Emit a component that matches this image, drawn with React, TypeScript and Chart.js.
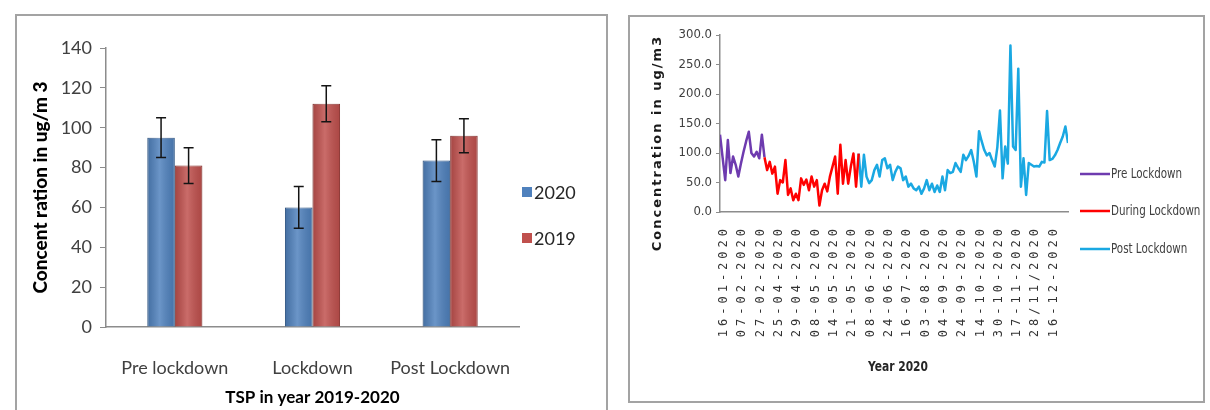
import React, { useEffect, useRef } from "react";
import { Chart, registerables } from "chart.js";

Chart.register(...registerables);

// ---- TSP bar chart data ----
const periods = ["Pre lockdown", "Lockdown", "Post Lockdown"];
const seriesNames = ["2020", "2019"];
const tsp2020 = [95, 60, 83.5];
const tsp2020Err = [10, 10.5, 10.5];
const tsp2019 = [81, 112, 96];
const tsp2019Err = [9, 9, 8.5];

// ---- 2020 daily concentration data ----
const dateTicks = [
  "16-01-2020", "07-02-2020", "27-02-2020", "25-04-2020", "29-04-2020",
  "08-05-2020", "14-05-2020", "21-05-2020", "08-06-2020", "24-06-2020",
  "16-07-2020", "03-08-2020", "04-09-2020", "24-09-2020", "14-10-2020",
  "30-10-2020", "17-11-2020", "28/11/2020", "16-12-2020",
];
const tickEvery = 7;
const lineNames = ["Pre Lockdown", "During Lockdown", "Post Lockdown"];
const preLockdown = [131, 92, 54, 122, 66, 94, 80, 60, 82, 102, 120, 136, 100, 94, 102, 91, 131, 93];
const duringLockdown = [
  93, 71, 85, 65, 77, 31, 54, 50, 88, 29, 40, 20, 31, 20, 57, 46, 55, 37, 60,
  43, 54, 11, 37, 48, 35, 60, 77, 94, 31, 114, 48, 88, 48, 77, 99, 43, 99,
];
const postLockdown = [
  99, 43, 97, 60, 49, 54, 71, 80, 60, 88, 91, 74, 80, 54, 68, 77, 74, 54, 60,
  43, 48, 40, 37, 43, 31, 40, 54, 37, 48, 34, 45, 34, 60, 37, 71, 66, 68, 83,
  75, 68, 97, 88, 95, 105, 85, 60, 137, 120, 105, 96, 100, 88, 77, 110, 172,
  57, 111, 82, 282, 111, 105, 243, 43, 91, 29, 83, 80, 77, 78, 77, 85, 84, 171,
  88, 90, 96, 105, 117, 128, 145, 117,
];

const preStart = 0;
const duringStart = preStart + preLockdown.length - 1;
const postStart = duringStart + duringLockdown.length - 1;
const lastIndex = postStart + postLockdown.length - 1;

const sansFont = "Lato, 'Open Sans', sans-serif";
const condensedFont = "'DejaVu Sans Condensed', 'DejaVu Sans', sans-serif";
const axisGray = "#8c8c8c";

const barColors = ["#4F81BD", "#C0504D"];
const barEdges = ["#3c679c", "#9c3d3a"];
const lineColors = ["#6E3BAF", "#FF0000", "#1AA8E2"];

function toPoints(values: number[], start: number) {
  return values.map((v, i) => ({ x: start + i, y: v }));
}

// Draws text squeezed horizontally, for the narrow legend/title lettering.
function narrowText(ctx: CanvasRenderingContext2D, text: string, x: number, y: number, sx: number) {
  ctx.save();
  ctx.translate(x, y);
  ctx.scale(sx, 1);
  ctx.fillText(text, 0, 0);
  ctx.restore();
}

function BarPanel() {
  const ref = useRef<HTMLCanvasElement>(null);
  useEffect(() => {
    const errs = [tsp2020Err, tsp2019Err];

    const shading = {
      id: "barShading",
      afterDatasetsDraw(chart: any) {
        const ctx = chart.ctx;
        chart.data.datasets.forEach((_: any, di: number) => {
          chart.getDatasetMeta(di).data.forEach((el: any) => {
            const left = el.x - el.width / 2;
            const g = ctx.createLinearGradient(left, 0, left + el.width, 0);
            g.addColorStop(0, "rgba(0,0,0,0.14)");
            g.addColorStop(0.45, "rgba(255,255,255,0.16)");
            g.addColorStop(1, "rgba(0,0,0,0.10)");
            ctx.save();
            ctx.fillStyle = g;
            ctx.fillRect(left, el.y, el.width, el.base - el.y);
            ctx.restore();
          });
        });
      },
    };

    const errorBars = {
      id: "errorBars",
      afterDatasetsDraw(chart: any) {
        const ctx = chart.ctx;
        const y = chart.scales.y;
        chart.data.datasets.forEach((ds: any, di: number) => {
          chart.getDatasetMeta(di).data.forEach((el: any, i: number) => {
            const v = ds.data[i] as number;
            const top = y.getPixelForValue(v + errs[di][i]);
            const bot = y.getPixelForValue(v - errs[di][i]);
            ctx.save();
            ctx.strokeStyle = "#141414";
            ctx.lineWidth = 1.5;
            ctx.beginPath();
            ctx.moveTo(el.x, top);
            ctx.lineTo(el.x, bot);
            ctx.moveTo(el.x - 5, top);
            ctx.lineTo(el.x + 5, top);
            ctx.moveTo(el.x - 5, bot);
            ctx.lineTo(el.x + 5, bot);
            ctx.stroke();
            ctx.restore();
          });
        });
      },
    };

    const sideLegend = {
      id: "sideLegend",
      afterDraw(chart: any) {
        const ctx = chart.ctx;
        const x = chart.chartArea.right + 3;
        const rows = [176, 222];
        ctx.save();
        seriesNames.forEach((name, i) => {
          const yc = rows[i];
          ctx.fillStyle = barColors[i];
          ctx.fillRect(x, yc - 5, 10, 10);
          ctx.fillStyle = "#262626";
          ctx.font = `18px ${sansFont}`;
          ctx.textAlign = "left";
          ctx.textBaseline = "middle";
          ctx.fillText(name, x + 12, yc + 1);
        });
        ctx.restore();
      },
    };

    const chart = new Chart(ref.current!, {
      type: "bar",
      data: {
        labels: periods,
        datasets: [
          { label: seriesNames[0], data: tsp2020, backgroundColor: barColors[0], borderColor: barEdges[0], borderWidth: 1 },
          { label: seriesNames[1], data: tsp2019, backgroundColor: barColors[1], borderColor: barEdges[1], borderWidth: 1 },
        ],
      },
      options: {
        responsive: false,
        animation: false,
        events: [],
        datasets: { bar: { categoryPercentage: 0.4, barPercentage: 1 } },
        layout: { padding: { left: 0, right: 87, top: 32, bottom: 0 } },
        plugins: { legend: { display: false }, tooltip: { enabled: false } },
        scales: {
          x: {
            offset: true,
            grid: { display: false, drawTicks: false },
            border: { display: true, color: axisGray, width: 1.5 },
            ticks: { padding: 30, color: "#404040", font: { family: sansFont, size: 18 } },
            title: {
              display: true,
              text: "TSP in year 2019-2020",
              color: "#000",
              font: { family: sansFont, size: 17, weight: "bold" },
              padding: { top: 0, bottom: 2 },
            },
            afterFit: (s: any) => { s.height = 83; },
          },
          y: {
            min: 0,
            max: 140,
            ticks: { stepSize: 20, padding: 8, color: "#404040", font: { family: sansFont, size: 18 } },
            grid: { display: true, drawOnChartArea: false, drawTicks: true, tickLength: 6, color: axisGray },
            border: { display: true, color: axisGray, width: 1.5 },
            title: {
              display: true,
              text: "Concent ration in ug/m 3",
              color: "#000",
              font: { family: sansFont, size: 19, weight: "900" },
              padding: { top: 12, bottom: 0 },
            },
            afterFit: (s: any) => { s.width = 89; },
          },
        },
      },
      plugins: [shading, errorBars, sideLegend],
    } as any);
    return () => chart.destroy();
  }, []);
  return (
    <canvas
      ref={ref}
      width={589}
      height={394}
      style={{ position: "absolute", left: 17, top: 16, width: 589, height: 394 }}
    />
  );
}

function LinePanel() {
  const ref = useRef<HTMLCanvasElement>(null);
  useEffect(() => {
    const annotations = {
      id: "dateAxisAndLegend",
      afterDraw(chart: any) {
        const ctx = chart.ctx;
        const area = chart.chartArea;
        const xs = chart.scales.x;
        ctx.save();
        // rotated date labels
        ctx.fillStyle = "#333";
        ctx.font = "12px 'DejaVu Sans Mono', monospace";
        (ctx as any).letterSpacing = "4px";
        ctx.textAlign = "right";
        ctx.textBaseline = "middle";
        dateTicks.forEach((label, j) => {
          const px = xs.getPixelForValue(j * tickEvery);
          ctx.save();
          ctx.translate(px + 4, area.bottom + 13);
          ctx.rotate(-Math.PI / 2);
          ctx.fillText(label, 0, 0);
          ctx.restore();
        });
        (ctx as any).letterSpacing = "0px";

        // axis titles
        ctx.fillStyle = "#262626";
        ctx.font = `bold 14px ${condensedFont}`;
        ctx.textAlign = "center";
        narrowText(ctx, "Year 2020", 268, 350, 0.85);

        ctx.save();
        ctx.translate(28, 126);
        ctx.rotate(-Math.PI / 2);
        ctx.font = "bold 13px 'DejaVu Sans', sans-serif";
        (ctx as any).letterSpacing = "2px";
        ctx.fillStyle = "#1a1a1a";
        ctx.fillText("Concentration in ug/m3", 0, 0);
        ctx.restore();

        // legend
        const rows = [157, 194, 232];
        ctx.font = `14px ${condensedFont}`;
        ctx.textAlign = "left";
        lineNames.forEach((name, i) => {
          const y = rows[i];
          ctx.strokeStyle = lineColors[i];
          ctx.lineWidth = 2.5;
          ctx.beginPath();
          ctx.moveTo(450, y);
          ctx.lineTo(480, y);
          ctx.stroke();
          ctx.fillStyle = "#404040";
          narrowText(ctx, name, 481, y, 0.82);
        });
        ctx.restore();
      },
    };

    const chart = new Chart(ref.current!, {
      type: "line",
      data: {
        datasets: [
          { label: lineNames[0], data: toPoints(preLockdown, preStart), borderColor: lineColors[0] },
          { label: lineNames[1], data: toPoints(duringLockdown, duringStart), borderColor: lineColors[1] },
          { label: lineNames[2], data: toPoints(postLockdown, postStart), borderColor: lineColors[2] },
        ],
      },
      options: {
        responsive: false,
        animation: false,
        events: [],
        elements: {
          point: { radius: 0 },
          line: { borderWidth: 2.5, tension: 0, borderJoinStyle: "round" },
        },
        layout: { padding: { left: 0, right: 135, top: 18, bottom: 0 } },
        plugins: { legend: { display: false }, tooltip: { enabled: false } },
        scales: {
          x: {
            type: "linear",
            min: 0,
            max: lastIndex,
            ticks: { display: false },
            grid: { display: false, drawTicks: false },
            border: { display: true, color: axisGray, width: 1.5 },
            afterFit: (s: any) => { s.height = 189; },
          },
          y: {
            min: 0,
            max: 300,
            ticks: {
              stepSize: 50,
              padding: 4,
              color: "#404040",
              font: { family: condensedFont, size: 13 },
              callback: (v: any) => Number(v).toFixed(1),
            },
            grid: { display: true, drawOnChartArea: false, drawTicks: true, tickLength: 4, color: axisGray },
            border: { display: true, color: axisGray, width: 1.5 },
            afterFit: (s: any) => { s.width = 90; },
          },
        },
      },
      plugins: [annotations],
    } as any);
    return () => chart.destroy();
  }, []);
  return (
    <canvas
      ref={ref}
      width={573}
      height={384}
      style={{ position: "absolute", left: 630, top: 17, width: 573, height: 384 }}
    />
  );
}

export default function App() {
  return (
    <div
      style={{
        position: "absolute",
        left: 0,
        top: 0,
        width: 1210,
        height: 410,
        overflow: "hidden",
        background: "#fff",
      }}
    >
      <div
        style={{
          position: "absolute",
          left: 15,
          top: 14,
          width: 593,
          height: 420,
          border: "2px solid #a3a3a3",
          boxSizing: "border-box",
        }}
      />
      <div
        style={{
          position: "absolute",
          left: 628,
          top: 15,
          width: 577,
          height: 388,
          border: "2px solid #a3a3a3",
          boxSizing: "border-box",
        }}
      />
      <BarPanel />
      <LinePanel />
    </div>
  );
}
